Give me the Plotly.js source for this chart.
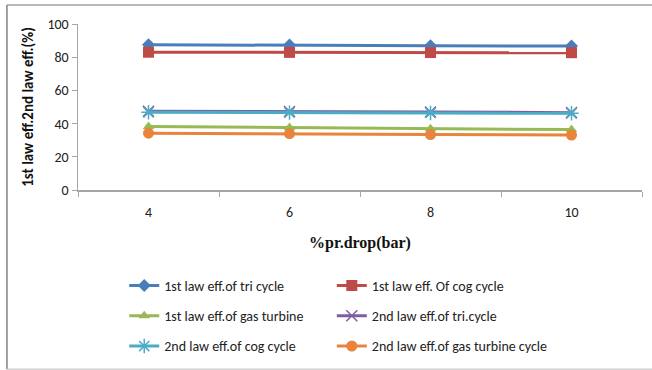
<!DOCTYPE html>
<html>
<head>
<meta charset="utf-8">
<script src="https://cdn.plot.ly/plotly-3.0.1.min.js"></script>
<style>
  html, body { margin: 0; padding: 0; background: #fff; }
  #chart { width: 652px; height: 370px; }
</style>
</head>
<body>
<div id="chart"></div>
<script>
// Pressure drop categories (bar)
const pressureDrop = ['4', '6', '8', '10'];

// First-law efficiencies (%)
const firstLawTri = [87.5, 87.4, 86.9, 86.7];
const firstLawCog = [83.0, 82.9, 82.8, 82.7];
const firstLawGasTurbine = [38.2, 37.6, 36.9, 36.4];

// Second-law efficiencies (%)
const secondLawTri = [47.4, 47.3, 47.0, 46.6];
const secondLawCog = [46.8, 46.6, 46.4, 46.2];
const secondLawGasTurbine = [34.2, 34.0, 33.4, 33.1];

const seriesNames = [
  '1st law eff.of tri cycle',
  '1st law eff. Of cog cycle',
  '1st law eff.of gas turbine',
  '2nd law eff.of tri.cycle',
  '2nd law eff.of cog cycle',
  '2nd law eff.of gas turbine cycle'
];

const FONT = 'Carlito, "Liberation Sans Narrow", "Liberation Sans", sans-serif';

function series(y, name, color, symbol, size, legend, extraMarker) {
  return {
    x: pressureDrop, y: y, name: name, type: 'scatter', mode: 'lines+markers',
    line: { color: color, width: 3 },
    marker: Object.assign({ color: color, symbol: symbol, size: size, line: { color: color, width: 0 } }, extraMarker || {}),
    legend: legend, legendgroup: name
  };
}

// Two legend columns, three rows each
const traces = [
  series(firstLawTri, seriesNames[0], '#4A7EBB', 'diamond', 10, 'legend'),
  series(firstLawCog, seriesNames[1], '#BE4B48', 'square', 11, 'legend2'),
  series(firstLawGasTurbine, seriesNames[2], '#98B954', 'triangle-up', 10, 'legend'),
  series(secondLawTri, seriesNames[3], '#7D5FA0', 'x-thin-open', 11, 'legend2', { line: { color: '#7D5FA0', width: 1.5 } }),
  series(secondLawCog, seriesNames[4], '#4BACC6', 'asterisk-open', 12, 'legend', { line: { color: '#4BACC6', width: 1.5 } }),
  series(secondLawGasTurbine, seriesNames[5], '#E8843C', 'circle', 11, 'legend2')
];

function legendColumn(x) {
  return {
    orientation: 'v', x: x, xanchor: 'left', y: -0.482, yanchor: 'top',
    tracegroupgap: 9,
    font: { family: FONT, size: 14, color: '#222' },
    bgcolor: 'rgba(0,0,0,0)', itemclick: false, traceorder: 'grouped'
  };
}

const layout = {
  width: 652, height: 370,
  margin: { l: 78, r: 10, t: 24, b: 180, autoexpand: false },
  paper_bgcolor: '#fff', plot_bgcolor: '#fff',
  font: { family: FONT, size: 14, color: '#222' },
  showlegend: true,
  xaxis: {
    type: 'category', range: [-0.5, 3.5],
    showline: true, linecolor: '#a6a6a6', linewidth: 1.5,
    ticks: 'outside', tickson: 'boundaries', ticklen: 5, tickcolor: '#a6a6a6',
    ticklabelstandoff: 9,
    showgrid: false, zeroline: false,
    tickfont: { family: FONT, size: 14, color: '#222' },
    title: { text: '%pr.drop(bar)', standoff: 16, font: { family: '"Liberation Serif", serif', size: 16, color: '#111', weight: 'bold' } }
  },
  yaxis: {
    range: [0, 100], tickvals: [0, 20, 40, 60, 80, 100],
    showline: true, linecolor: '#a6a6a6', linewidth: 1.5,
    ticks: 'outside', ticklen: 5, tickcolor: '#a6a6a6',
    showgrid: false, zeroline: false,
    tickfont: { family: FONT, size: 14, color: '#222' },
    title: { text: '1st law eff.2nd law eff.(%)', standoff: 10, font: { family: FONT, size: 15, color: '#111', weight: 'bold' } }
  },
  legend: legendColumn(0.082),
  legend2: legendColumn(0.45),
  shapes: [
    { type: 'line', xref: 'paper', yref: 'paper', x0: -0.126, x1: -0.126, y0: -1.08, y1: 1.115, line: { color: '#808080', width: 1.5 } },
    { type: 'line', xref: 'paper', yref: 'paper', x0: -0.126, x1: 1.02, y0: 1.115, y1: 1.115, line: { color: '#a0a0a0', width: 1.5 } },
    { type: 'line', xref: 'paper', yref: 'paper', x0: -0.126, x1: 1.02, y0: -1.08, y1: -1.08, line: { color: '#d0d0d0', width: 1.5 } }
  ]
};

Plotly.newPlot('chart', traces, layout, { displayModeBar: false, staticPlot: true });
</script>
</body>
</html>
